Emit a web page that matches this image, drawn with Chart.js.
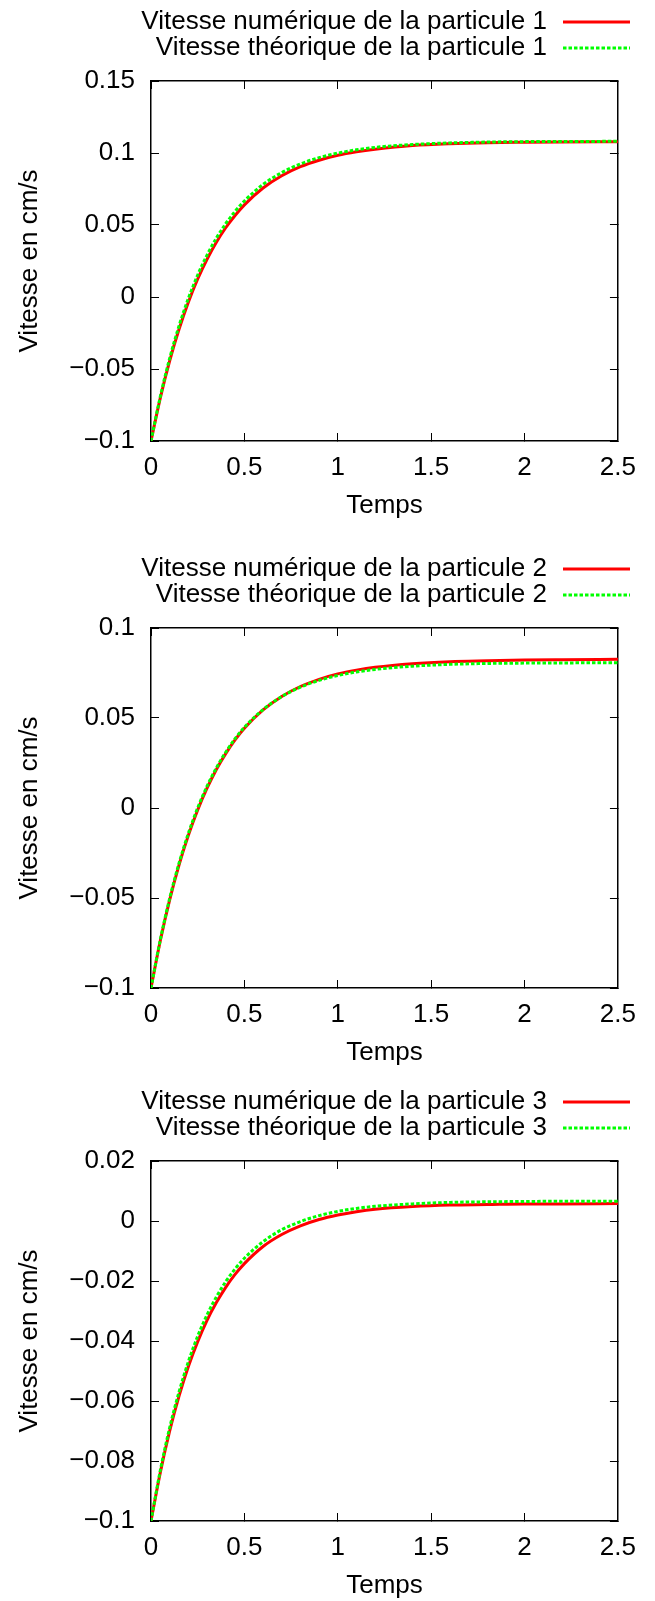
<!DOCTYPE html>
<html>
<head>
<meta charset="utf-8">
<script src="https://cdn.jsdelivr.net/npm/chart.js@4.4.1/dist/chart.umd.min.js"></script>
<style>
  body { margin: 0; background: #fff; }
  #wrap { position: relative; width: 655px; height: 1601px; overflow: hidden; }
  canvas { position: absolute; left: 0; }
</style>
</head>
<body>
<div id="wrap">
  <canvas id="c1" width="655" height="521" style="top:0px"></canvas>
  <canvas id="c2" width="655" height="521" style="top:547px"></canvas>
  <canvas id="c3" width="655" height="521" style="top:1080px"></canvas>
</div>
<script>
// temps (abscisse commune)
const temps = [0, 0.05, 0.1, 0.15, 0.2, 0.25, 0.3, 0.35, 0.4, 0.45, 0.5, 0.6, 0.7, 0.8, 0.9, 1.0, 1.1, 1.2, 1.4, 1.6, 1.8, 2.0, 2.2, 2.5];

// particule 1
const num1 = [-0.1, -0.0700, -0.0443, -0.0224, -0.0036, 0.0125, 0.0262, 0.0380, 0.0481, 0.0566, 0.0640, 0.0757, 0.0842, 0.0905, 0.0950, 0.0984, 0.1008, 0.1026, 0.1052, 0.1065, 0.1072, 0.1075, 0.1077, 0.1078];
const theo1 = [-0.1, -0.0690, -0.0426, -0.0201, -0.0010, 0.0153, 0.0291, 0.0409, 0.0509, 0.0594, 0.0667, 0.0782, 0.0864, 0.0924, 0.0968, 0.0999, 0.1022, 0.1039, 0.1059, 0.1070, 0.1076, 0.1079, 0.1080, 0.1081];
// particule 2
const num2 = [-0.1, -0.0736, -0.0510, -0.0317, -0.0152, -0.0011, 0.0110, 0.0214, 0.0302, 0.0378, 0.0443, 0.0545, 0.0620, 0.0675, 0.0715, 0.0745, 0.0766, 0.0782, 0.0802, 0.0813, 0.0818, 0.0822, 0.0824, 0.0826];
const theo2 = [-0.1, -0.0731, -0.0502, -0.0307, -0.0141, 0.0001, 0.0121, 0.0223, 0.0310, 0.0385, 0.0448, 0.0547, 0.0619, 0.0671, 0.0709, 0.0736, 0.0756, 0.0770, 0.0788, 0.0798, 0.0803, 0.0805, 0.0806, 0.0807];
// particule 3
const num3 = [-0.1, -0.0838, -0.0700, -0.0584, -0.0485, -0.0402, -0.0331, -0.0272, -0.0221, -0.0178, -0.0142, -0.0085, -0.0045, -0.0016, 0.0005, 0.0020, 0.0031, 0.0039, 0.0048, 0.0053, 0.0055, 0.0057, 0.0057, 0.0058];
const theo3 = [-0.1, -0.0831, -0.0689, -0.0570, -0.0469, -0.0384, -0.0313, -0.0253, -0.0202, -0.0160, -0.0124, -0.0069, -0.0029, -0.0002, 0.0018, 0.0032, 0.0042, 0.0049, 0.0057, 0.0062, 0.0064, 0.0065, 0.0066, 0.0066];

// graduations
const xTicks = [0, 0.5, 1, 1.5, 2, 2.5];
const yTicks1 = [-0.1, -0.05, 0, 0.05, 0.1, 0.15];
const yTicks2 = [-0.1, -0.05, 0, 0.05, 0.1];
const yTicks3 = [-0.1, -0.08, -0.06, -0.04, -0.02, 0, 0.02];

const FONT = '"Liberation Sans", Arial, sans-serif';
const PLOT_LEFT = 151, PLOT_RIGHT = 628, PLOT_TOP = 81, PLOT_BOTTOM = 441;

function fmt(v) {
  return String(Math.round(v * 1000) / 1000).replace('-', '\u2212');
}

// legende a la gnuplot : texte aligne a droite, echantillon de ligne a droite
const gnuLegend = {
  id: 'gnuLegend',
  afterDraw(chart) {
    const ctx = chart.ctx;
    const rows = [22, 48];
    ctx.save();
    ctx.font = '26px ' + FONT;
    ctx.textAlign = 'right';
    ctx.textBaseline = 'middle';
    chart.data.datasets.forEach((ds, i) => {
      const y = rows[i];
      ctx.fillStyle = '#000';
      ctx.fillText(ds.label, 547, y);
      ctx.beginPath();
      ctx.setLineDash(ds.borderDash || []);
      ctx.strokeStyle = ds.borderColor;
      ctx.lineWidth = ds.borderWidth;
      ctx.moveTo(563, y);
      ctx.lineTo(630, y);
      ctx.stroke();
    });
    ctx.restore();
  }
};

function makeChart(id, n, numData, theoData, yTicks) {
  const ctx = document.getElementById(id).getContext('2d');
  const tickAxis = (pos, ticks, shown) => ({
    type: 'linear',
    position: pos,
    min: ticks[0],
    max: ticks[ticks.length - 1],
    afterBuildTicks: s => { s.ticks = ticks.map(v => ({ value: v })); },
    grid: { drawOnChartArea: false, drawTicks: true, tickLength: -8, tickColor: '#000', tickWidth: 1 },
    border: { display: true, color: '#000', width: 1.5 },
    ticks: { display: shown, color: '#000', font: { family: FONT, size: 26 }, callback: v => fmt(v) }
  });

  const x = tickAxis('bottom', xTicks, true);
  x.ticks.padding = 19;
  x.ticks.maxRotation = 0;
  x.title = { display: true, text: 'Temps', color: '#000', font: { family: FONT, size: 26 }, padding: { top: 0, bottom: 0 } };
  x.afterFit = s => { s.height = 521 - PLOT_BOTTOM; };

  const x2 = tickAxis('top', xTicks, false);
  x2.afterFit = s => { s.height = 0; };

  const y = tickAxis('left', yTicks, true);
  y.ticks.padding = 24;
  y.title = { display: true, text: 'Vitesse en cm/s', color: '#000', font: { family: FONT, size: 26 }, padding: { top: 14, bottom: 0 } };
  y.afterFit = s => { s.width = PLOT_LEFT; };

  const y2 = tickAxis('right', yTicks, false);
  y2.afterFit = s => { s.width = 0; };

  return new Chart(ctx, {
    type: 'line',
    data: {
      datasets: [
        {
          label: 'Vitesse numérique de la particule ' + n,
          data: temps.map((t, i) => ({ x: t, y: numData[i] })),
          borderColor: '#ff0000',
          borderWidth: 3,
          pointRadius: 0,
          cubicInterpolationMode: 'monotone',
          order: 2
        },
        {
          label: 'Vitesse théorique de la particule ' + n,
          data: temps.map((t, i) => ({ x: t, y: theoData[i] })),
          borderColor: '#00ff00',
          borderWidth: 3,
          borderDash: [3.5, 2],
          pointRadius: 0,
          cubicInterpolationMode: 'monotone',
          order: 1
        }
      ]
    },
    options: {
      responsive: false,
      animation: false,
      devicePixelRatio: 1,
      layout: { padding: { top: PLOT_TOP, right: 655 - PLOT_RIGHT, left: 0, bottom: 0 } },
      plugins: { legend: { display: false }, tooltip: { enabled: false } },
      scales: { x: x, x2: x2, y: y, y2: y2 }
    },
    plugins: [gnuLegend]
  });
}

makeChart('c1', 1, num1, theo1, yTicks1);
makeChart('c2', 2, num2, theo2, yTicks2);
makeChart('c3', 3, num3, theo3, yTicks3);
</script>
</body>
</html>
